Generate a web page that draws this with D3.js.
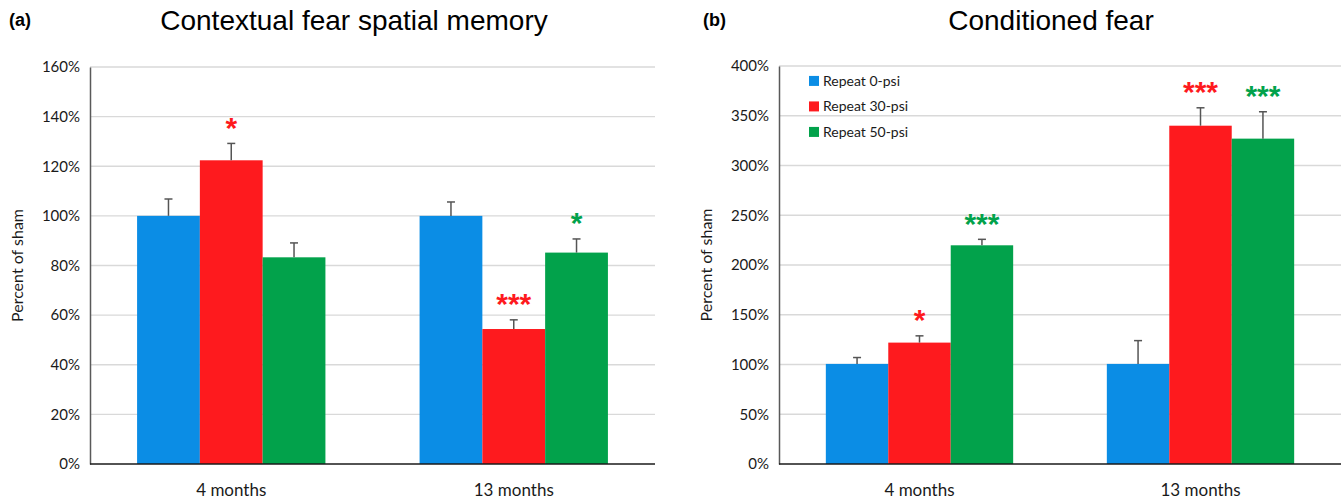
<!DOCTYPE html>
<html lang="en">
  <head>
    <meta charset="UTF-8" />
    <script src="https://d3js.org/d3.v7.min.js"></script>
    <title></title>
    <style>
      body { margin: 0; background: #fff; }
      text { font-family: Lato, 'Open Sans', sans-serif; }
      .title { font-family: 'Liberation Sans', Arial, sans-serif; }
    </style>
  </head>
  <body>
    <div id="my_dataviz"></div>
    <script>
      // categories and series
      const categories = ['4 months', '13 months']
      const seriesNames = ['Repeat 0-psi', 'Repeat 30-psi', 'Repeat 50-psi']
      const colors = ['#0b8de5', '#fe1a1e', '#02a24b']

      // panel (a) values, percent of sham
      const ctxValues = [
        [100, 122.4, 83.3],
        [100, 54.4, 85.2]
      ]
      const ctxErrors = [
        [6.8, 6.8, 5.8],
        [5.6, 3.7, 5.5]
      ]
      const ctxStars = [
        ['', '*', ''],
        ['', '***', '*']
      ]
      const ctxTicks = [0, 20, 40, 60, 80, 100, 120, 140, 160]

      // panel (b) values, percent of sham
      const condValues = [
        [100.6, 122, 219.8],
        [100.6, 340, 327]
      ]
      const condErrors = [
        [6.4, 6.8, 6],
        [23.4, 18, 27]
      ]
      const condStars = [
        ['', '*', '***'],
        ['', '***', '***']
      ]
      const condTicks = [0, 50, 100, 150, 200, 250, 300, 350, 400]

      const svg = d3
        .select('#my_dataviz')
        .append('svg')
        .attr('width', 1343)
        .attr('height', 502)

      function drawPanel(opts) {
        const { left, right, top, bottom, values, errors, stars, ticks, title, tag, tagX, titleX, showLegend } = opts

        const x = d3.scaleBand().domain(categories).range([left, right])
        const xs = d3.scaleBand().domain(seriesNames).range([0, x.bandwidth()]).paddingInner(0).paddingOuter(0.75)
        const y = d3.scaleLinear().domain([0, d3.max(ticks)]).range([bottom, top])

        const g = svg.append('g')

        // gridlines
        g.append('g')
          .selectAll('line')
          .data(ticks.slice(1))
          .join('line')
          .attr('x1', left)
          .attr('x2', right)
          .attr('y1', d => y(d))
          .attr('y2', d => y(d))
          .attr('stroke', '#d9d9d9')
          .attr('stroke-width', 1.3)

        // y axis
        const yAxis = g.append('g')
          .attr('transform', `translate(${left}, 0)`)
          .call(d3.axisLeft(y).tickValues(ticks).tickFormat(d => d + '%').tickSize(0).tickPadding(10))
        yAxis.select('.domain').attr('stroke', '#595959').attr('stroke-width', 1.5)
        yAxis.selectAll('text').attr('font-size', 15).attr('fill', '#1a1a1a')
          .style('font-family', "Lato, 'Open Sans', sans-serif")

        // bars
        const groups = g.append('g')
          .selectAll('g')
          .data(categories)
          .join('g')
          .attr('transform', c => `translate(${x(c)}, 0)`)

        groups.each(function (c, ci) {
          const grp = d3.select(this)
          seriesNames.forEach((s, si) => {
            const v = values[ci][si]
            const e = errors[ci][si]
            const bx = xs(s)
            const cx = bx + xs.bandwidth() / 2
            grp.append('rect')
              .attr('x', bx)
              .attr('y', y(v))
              .attr('width', xs.bandwidth())
              .attr('height', y(0) - y(v))
              .attr('fill', colors[si])
            // error bar
            grp.append('line')
              .attr('x1', cx).attr('x2', cx)
              .attr('y1', y(v)).attr('y2', y(v + e))
              .attr('stroke', '#555').attr('stroke-width', 1.5)
            grp.append('line')
              .attr('x1', cx - 4).attr('x2', cx + 4)
              .attr('y1', y(v + e)).attr('y2', y(v + e))
              .attr('stroke', '#555').attr('stroke-width', 1.5)
            // significance stars
            if (stars[ci][si]) {
              grp.append('text')
                .attr('class', 'title')
                .attr('x', cx)
                .attr('y', y(v + e) - 4)
                .attr('text-anchor', 'middle')
                .attr('font-size', 30)
                .attr('font-weight', 'bold')
                .attr('fill', colors[si])
                .attr('dy', '0.65em')
                .attr('transform', `translate(0, -21)`)
                .text(stars[ci][si])
            }
          })
        })

        // x axis line
        g.append('line')
          .attr('x1', left).attr('x2', right)
          .attr('y1', bottom).attr('y2', bottom)
          .attr('stroke', '#1a1a1a').attr('stroke-width', 1.5)

        // category labels
        g.append('g')
          .selectAll('text')
          .data(categories)
          .join('text')
          .attr('x', c => x(c) + x.bandwidth() / 2)
          .attr('y', bottom + 32)
          .attr('text-anchor', 'middle')
          .attr('font-size', 17)
          .attr('fill', '#1a1a1a')
          .text(c => c)

        // y label
        g.append('text')
          .attr('transform', `translate(${left - 67}, ${(top + bottom) / 2}) rotate(-90)`)
          .attr('text-anchor', 'middle')
          .attr('font-size', 16)
          .attr('fill', '#1a1a1a')
          .text('Percent of sham')

        // titles
        g.append('text')
          .attr('class', 'title')
          .attr('x', tagX).attr('y', 26)
          .attr('font-size', 18)
          .attr('font-weight', 'bold')
          .text(tag)
        g.append('text')
          .attr('class', 'title')
          .attr('x', titleX).attr('y', 30)
          .attr('text-anchor', 'middle')
          .attr('font-size', 28)
          .text(title)

        if (showLegend) {
          const leg = g.append('g')
            .selectAll('g')
            .data(seriesNames)
            .join('g')
            .attr('transform', (d, i) => `translate(${left + 30}, ${y(385) + i * 25.5})`)
          leg.append('rect')
            .attr('x', 0).attr('y', -5)
            .attr('width', 10).attr('height', 10)
            .attr('fill', (d, i) => colors[i])
          leg.append('text')
            .attr('x', 14).attr('y', 0)
            .attr('dy', '0.35em')
            .attr('font-size', 14)
            .attr('fill', '#1a1a1a')
            .text(d => d)
        }
      }

      drawPanel({
        left: 90, right: 655, top: 67, bottom: 464,
        values: ctxValues, errors: ctxErrors, stars: ctxStars, ticks: ctxTicks,
        title: 'Contextual fear spatial memory', tag: '(a)', tagX: 9, titleX: 354,
        showLegend: false
      })

      drawPanel({
        left: 779, right: 1341, top: 66, bottom: 464,
        values: condValues, errors: condErrors, stars: condStars, ticks: condTicks,
        title: 'Conditioned fear', tag: '(b)', tagX: 703, titleX: 1051,
        showLegend: true
      })
    </script>
  </body>
</html>
